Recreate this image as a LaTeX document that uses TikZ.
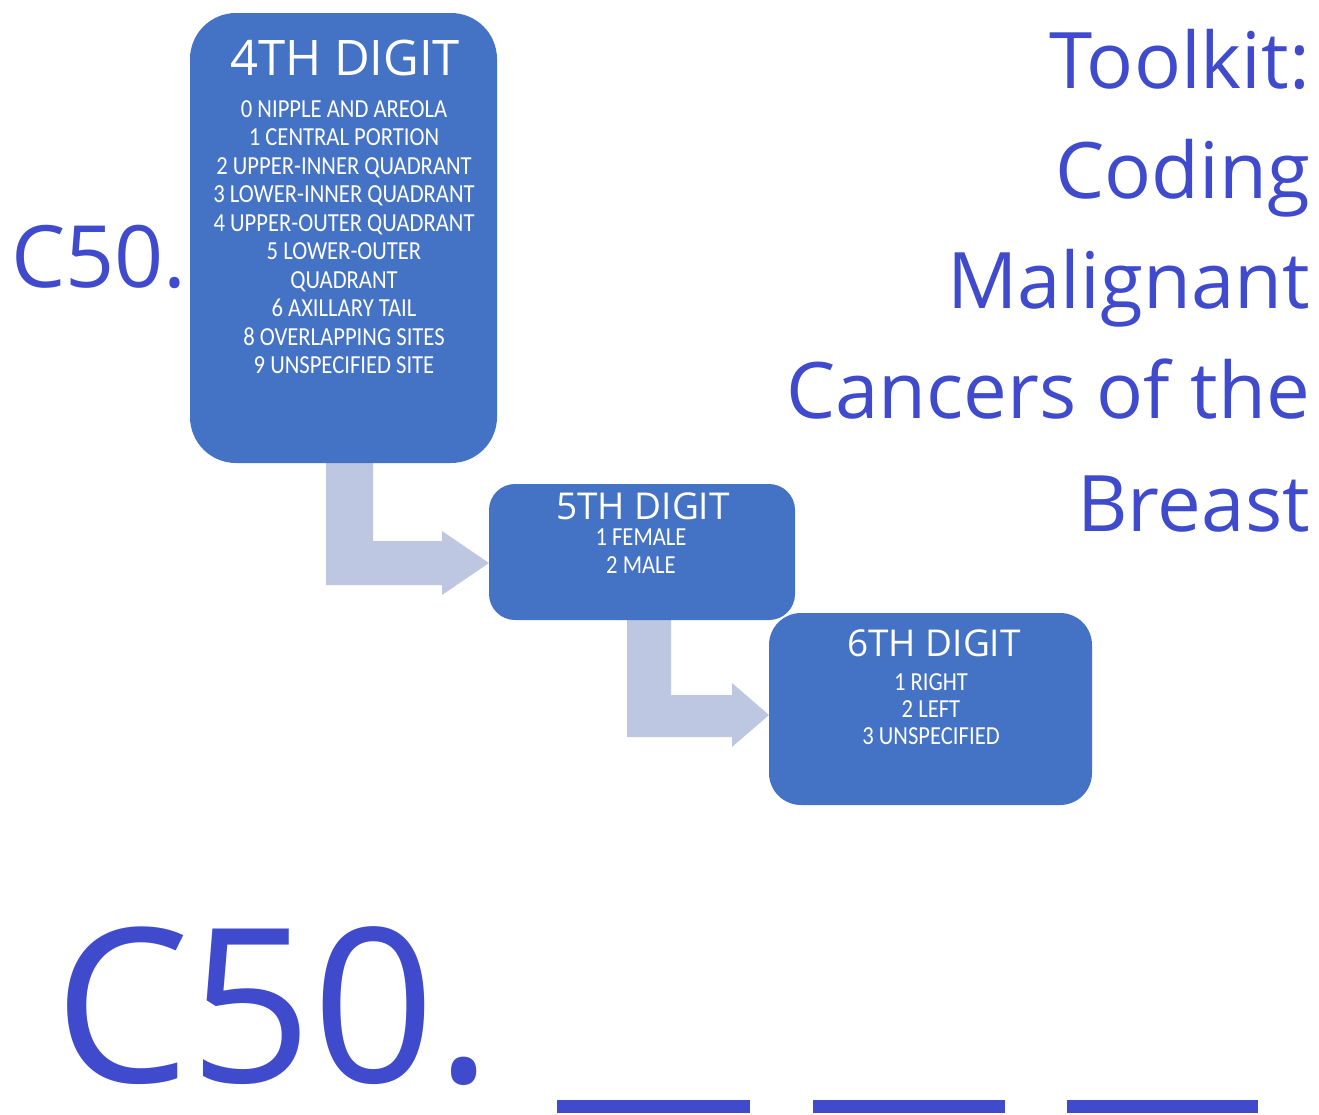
\documentclass[tikz,border=0pt]{standalone}
\usepackage{fontspec}
\setmainfont{Open Sans}
\newfontfamily\listfont[FakeStretch=0.87]{Carlito}
\usetikzlibrary{calc}
\definecolor{boxblue}{HTML}{4472C4}
\definecolor{arrowblue}{HTML}{BDC7E2}
\definecolor{textblue}{HTML}{3F4ACD}
\begin{document}
\begin{tikzpicture}[x=1pt,y=-1pt,
  digitbox/.style={fill=boxblue, draw=none, inner sep=0pt},
  bentarrow/.style={fill=arrowblue, draw=none},
  boxhead/.style={text=white, inner sep=0pt, anchor=base, font=\fontsize{#1}{#1}\selectfont},
  boxlist/.style={text=white, inner sep=0pt, anchor=north, align=center, font=\listfont\fontsize{26}{28.5}\selectfont},
  bluetext/.style={text=textblue, inner sep=0pt, font=\fontsize{#1}{#1}\selectfont},
  blank/.style={fill=textblue, draw=none}]
\useasboundingbox (0,0) rectangle (1319,1114);
\fill[white] (0,0) rectangle (1319,1114);

% connectors (bent arrows) drawn first, behind the boxes
\coordinate (a1tip) at (489,563);
\coordinate (a2tip) at (769,715);
\fill[bentarrow] (326,455) -- (373,455) -- (373,541) -- (442,541) -- (442,531)
  -- (a1tip) -- (442,595) -- (442,585) -- (326,585) -- cycle;
\fill[bentarrow] (627,610) -- (671,610) -- (671,695) -- (732,695) -- (732,683)
  -- (a2tip) -- (732,747) -- (732,737) -- (627,737) -- cycle;

% boxes
\node[digitbox, rounded corners=46pt, minimum width=307pt, minimum height=450pt] (b4) at (343.5,238) {};
\node[digitbox, rounded corners=26pt, minimum width=306pt, minimum height=136pt] (b5) at (642,552) {};
\node[digitbox, rounded corners=32pt, minimum width=323pt, minimum height=192pt] (b6) at (930.5,709) {};

% box texts
\node[boxhead=49] (h4) at (345,75) {4TH DIGIT};
\node[boxlist] (l4) at (344,100) {0 NIPPLE AND AREOLA\\1 CENTRAL PORTION\\2 UPPER-INNER QUADRANT\\3 LOWER-INNER QUADRANT\\4 UPPER-OUTER QUADRANT\\5 LOWER-OUTER\\QUADRANT\\6 AXILLARY TAIL\\8 OVERLAPPING SITES\\9 UNSPECIFIED SITE};
\node[boxhead=37] (h5) at (643,519) {5TH DIGIT};
\node[boxlist, font=\listfont\fontsize{26}{28}\selectfont] (l5) at (641,529) {1 FEMALE\\2 MALE};
\node[boxhead=37] (h6) at (934,656) {6TH DIGIT};
\node[boxlist, font=\listfont\fontsize{26}{27}\selectfont] (l6) at (931,673) {1 RIGHT\\2 LEFT\\3 UNSPECIFIED};

% side labels
\node[bluetext=86, anchor=base west] (c50a) at (11,287) {C50.};
\node[bluetext=78, anchor=base east] (t1) at (1310,88) {Toolkit:};
\node[bluetext=78, anchor=base east] (t2) at (1310,198) {Coding};
\node[bluetext=78, anchor=base east] (t3) at (1310,308) {Malignant};
\node[bluetext=78, anchor=base east] (t4) at (1310,418) {Cancers of the};
\node[bluetext=78, anchor=base east] (t5) at (1310,531) {Breast};

% big code with blanks
\node[bluetext=215, anchor=base west, text depth=0pt] (c50b) at (54,1082) {C50.};
\fill[blank] (557,1100) rectangle (750,1113);
\fill[blank] (813,1100) rectangle (1005,1113);
\fill[blank] (1067,1100) rectangle (1258,1113);
\end{tikzpicture}
\end{document}
